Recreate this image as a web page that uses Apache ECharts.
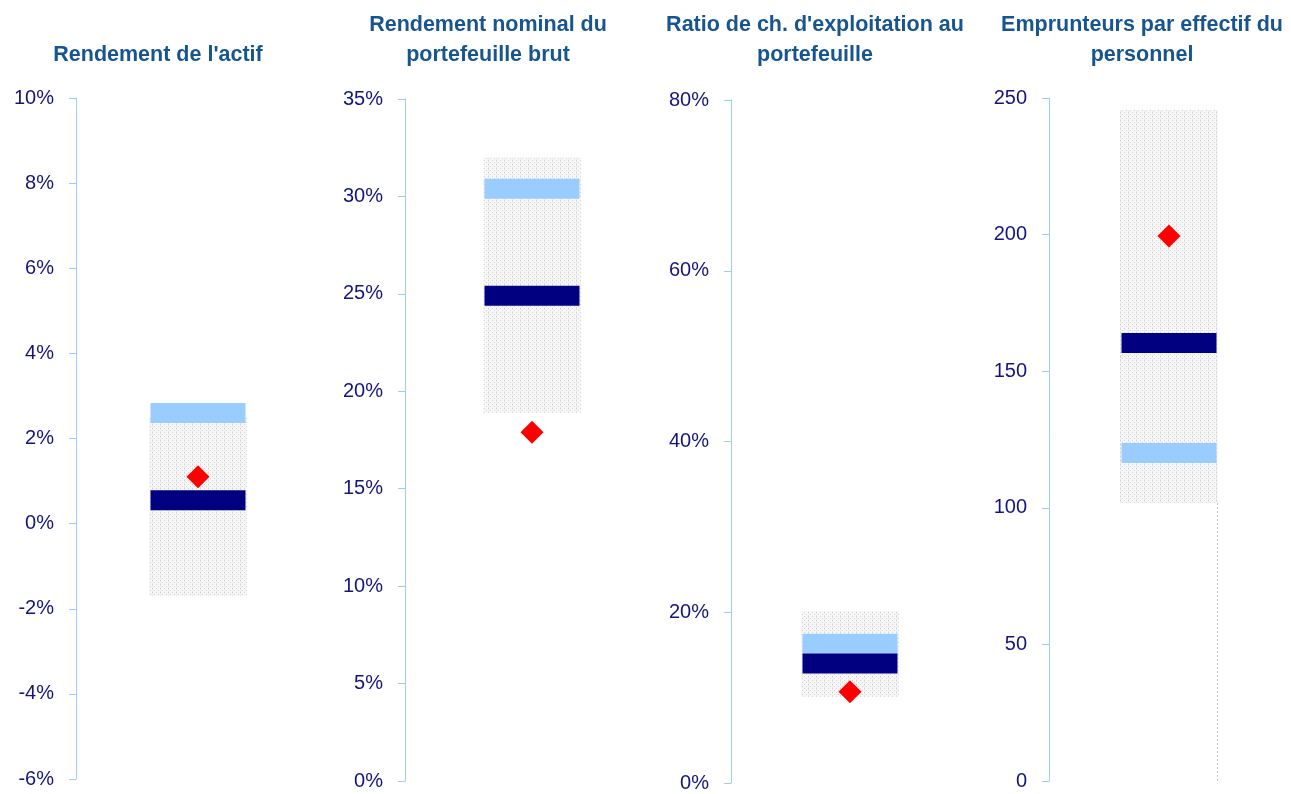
<!DOCTYPE html>
<html>
<head>
<meta charset="utf-8">
<script src="https://cdn.jsdelivr.net/npm/echarts@6/dist/echarts.min.js"></script>
<style>
html,body{margin:0;padding:0;background:#fff;}
#chart{width:1291px;height:794px;}
</style>
</head>
<body>
<div id="chart"></div>
<script>
// ---- data ----
const titles = ["Rendement de l'actif", "Rendement nominal du\nportefeuille brut", "Ratio de ch. d'exploitation au\nportefeuille", "Emprunteurs par effectif du\npersonnel"];
const axisMin = [-6, 0, 0, 0];
const axisMax = [10, 35, 80, 250];
const axisStep = [2, 5, 20, 50];
const unitSuffix = ['%', '%', '%', ''];
const boxLow = [-1.7, 18.9, 10.1, 101.8];
const boxHigh = [2.5, 32.0, 20.1, 245.6];
const lightBlue = [2.6, 30.4, 16.3, 120.1];
const navy = [0.55, 24.9, 14.0, 160.3];
const red = [1.1, 17.9, 10.7, 199.5];
const baseDrop = [false, false, false, true];

// ---- layout ----
const grids = [
  {left: 76, width: 244, top: 98, height: 681},
  {left: 405, width: 254, top: 99, height: 682},
  {left: 731, width: 238, top: 100, height: 683},
  {left: 1049, width: 240, top: 98, height: 683}
];
const titleX = [153, 483, 810, 1137];

// stipple pattern
const pc = document.createElement('canvas');
pc.width = 8; pc.height = 4;
const px = pc.getContext('2d');
px.fillStyle = '#f7f7f7'; px.fillRect(0, 0, 8, 4);
px.fillStyle = '#d2d2d2';
px.fillRect(0, 0, 1, 1); px.fillRect(2, 2, 1, 1); px.fillRect(4, 0, 1, 1); px.fillRect(6, 2, 1, 1);
px.fillStyle = '#e2e2e2';
px.fillRect(0, 1, 1, 1); px.fillRect(0, 3, 1, 1);
const pattern = {image: pc, repeat: 'repeat'};

const chart = echarts.init(document.getElementById('chart'), null, {renderer: 'canvas'});

const option = {
  animation: false,
  backgroundColor: '#ffffff',
  title: titles.map((t, i) => ({
    text: t,
    left: titleX[i],
    top: t.indexOf('\n') >= 0 ? 5 : 35,
    textAlign: 'center',
    textStyle: {
      fontFamily: 'Liberation Sans, Arial, sans-serif',
      fontSize: 21.5, fontWeight: 'bold', color: '#175591', lineHeight: 30
    }
  })),
  grid: grids.map(g => Object.assign({containLabel: false}, g)),
  xAxis: grids.map((g, i) => ({
    type: 'category', gridIndex: i, data: [''],
    show: false
  })),
  yAxis: grids.map((g, i) => ({
    type: 'value', gridIndex: i,
    min: axisMin[i], max: axisMax[i], interval: axisStep[i],
    axisLine: {show: true, lineStyle: {color: '#99CCFF', width: 1}},
    axisTick: {show: true, length: 7, lineStyle: {color: '#99CCFF'}},
    splitLine: {show: false},
    axisLabel: {
      margin: 22,
      fontFamily: 'Liberation Sans, Arial, sans-serif',
      fontSize: 20, color: '#14147f',
      formatter: v => v + unitSuffix[i]
    }
  })),
  series: []
};

for (let i = 0; i < 4; i++) {
  option.series.push({
    type: 'custom', xAxisIndex: i, yAxisIndex: i, z: 1,
    data: [[0, boxLow[i], boxHigh[i]]],
    renderItem: (params, api) => {
      const lo = api.coord([api.value(0), api.value(1)]);
      const hi = api.coord([api.value(0), api.value(2)]);
      const w = 98;
      const children = [{
        type: 'rect',
        shape: {x: lo[0] - w / 2, y: hi[1], width: w, height: lo[1] - hi[1]},
        style: {fill: pattern}
      }];
      if (baseDrop[i]) {
        const zero = api.coord([api.value(0), axisMin[i]]);
        children.push({
          type: 'line',
          shape: {x1: lo[0] + w / 2 - 0.5, y1: lo[1], x2: lo[0] + w / 2 - 0.5, y2: zero[1]},
          style: {stroke: '#c8c8c8', lineWidth: 1, lineDash: [2, 2]}
        });
      }
      return {type: 'group', children};
    }
  });
  option.series.push({
    type: 'scatter', xAxisIndex: i, yAxisIndex: i, z: 2,
    symbol: 'rect', symbolSize: [95, 20],
    itemStyle: {color: '#99CCFF', opacity: 1},
    data: [[0, lightBlue[i]]]
  });
  option.series.push({
    type: 'scatter', xAxisIndex: i, yAxisIndex: i, z: 3,
    symbol: 'rect', symbolSize: [95, 20],
    itemStyle: {color: '#000080', opacity: 1},
    data: [[0, navy[i]]]
  });
  option.series.push({
    type: 'scatter', xAxisIndex: i, yAxisIndex: i, z: 4,
    symbol: 'diamond', symbolSize: [23, 23],
    itemStyle: {color: '#FF0000', opacity: 1},
    data: [[0, red[i]]]
  });
}

chart.setOption(option);
</script>
</body>
</html>
